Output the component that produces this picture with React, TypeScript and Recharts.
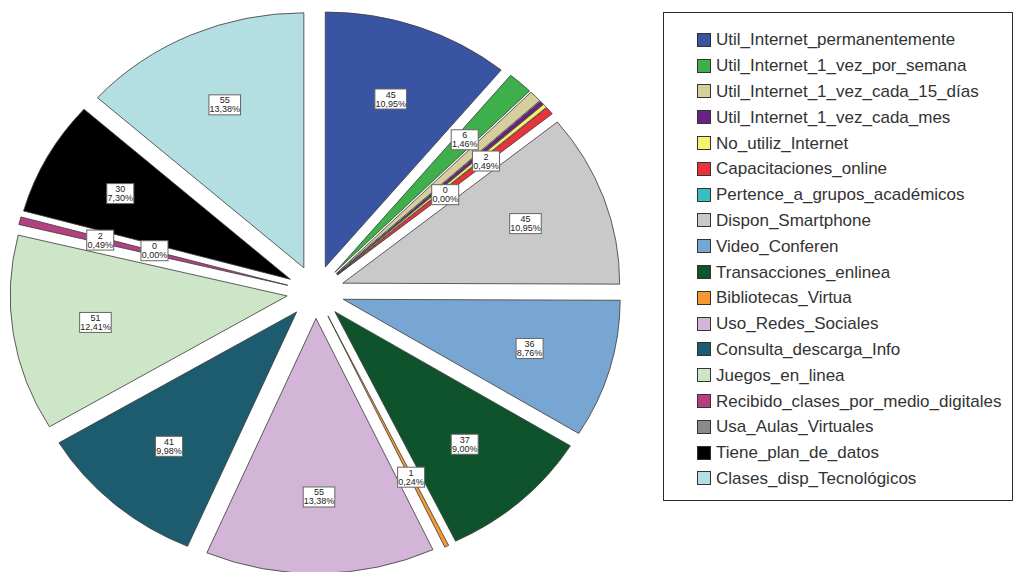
import * as React from "react"
import { PieChart, Pie, Sector, Legend } from "recharts"

const names = [
  "Util_Internet_permanentemente",
  "Util_Internet_1_vez_por_semana",
  "Util_Internet_1_vez_cada_15_días",
  "Util_Internet_1_vez_cada_mes",
  "No_utiliz_Internet",
  "Capacitaciones_online",
  "Pertence_a_grupos_académicos",
  "Dispon_Smartphone",
  "Video_Conferen",
  "Transacciones_enlinea",
  "Bibliotecas_Virtua",
  "Uso_Redes_Sociales",
  "Consulta_descarga_Info",
  "Juegos_en_linea",
  "Recibido_clases_por_medio_digitales",
  "Usa_Aulas_Virtuales",
  "Tiene_plan_de_datos",
  "Clases_disp_Tecnológicos",
]

const values = [45, 6, 3, 1, 1, 2, 0, 45, 36, 37, 1, 55, 41, 51, 2, 0, 30, 55]

const colors = [
  "#3a54a4", "#3db04b", "#d4cf9d", "#6a2080", "#f7f16f", "#e9333a",
  "#39bfbf", "#c9c9c9", "#77a6d2", "#0f532d", "#f5982f", "#d2b5d7",
  "#1d5b6f", "#cde6c7", "#b53f7f", "#8b8b8b", "#000000", "#b3dfe2",
]

// labels SPSS left out because they collided
const hiddenLabels = ["Util_Internet_1_vez_cada_15_días", "Util_Internet_1_vez_cada_mes", "No_utiliz_Internet"]

const data = names.map((name, i) => ({ name, value: values[i] }))

const RAD = Math.PI / 180
const EXPLODE = 26.5
const SX = 1.086 // the original is stretched sideways
const FONT = "'Liberation Sans', Arial, sans-serif"

function ExplodedSector(props: any) {
  const { cx, cy, midAngle, outerRadius, startAngle, endAngle, index } = props
  const m = -midAngle * RAD
  const ox = cx + EXPLODE * Math.cos(m) * SX
  const oy = cy + EXPLODE * Math.sin(m)
  return (
    <g transform={`translate(${ox},${oy}) scale(${SX},1)`}>
      <Sector
        cx={0}
        cy={0}
        innerRadius={0}
        outerRadius={outerRadius}
        startAngle={startAngle}
        endAngle={endAngle}
        fill={colors[index]}
        stroke="#3f3f3f"
        strokeWidth={0.8}
      />
    </g>
  )
}

const placed: { x: number; y: number; w: number }[] = []

function BoxLabel(props: any) {
  const { cx, cy, midAngle, outerRadius, index, value, percent } = props
  if (index === 0) placed.length = 0
  if (hiddenLabels.includes(names[index])) return null
  const m = -midAngle * RAD
  const r = EXPLODE + outerRadius * (value === 0 ? 0.5 : 0.7)
  const x = cx + r * Math.cos(m) * SX
  let y = cy + r * Math.sin(m)
  const line1 = String(value)
  const line2 = (percent * 100).toFixed(2).replace(".", ",") + "%"
  const w = Math.max(line1.length, line2.length) * 4.6 + 4
  const h = 20
  const hits = () => placed.some(p => Math.abs(p.x - x) < (p.w + w) / 2 && Math.abs(p.y - y) < h + 1)
  let guard = 0
  while (hits() && guard < 200) {
    y += Math.cos(m) >= 0 ? 1 : -1
    guard++
  }
  placed.push({ x, y, w })
  return (
    <g>
      <rect x={x - w / 2} y={y - h / 2} width={w} height={h} fill="#fff" stroke="#666" strokeWidth={1} />
      <text x={x} y={y - 1.5} textAnchor="middle" fontSize={9} fontFamily={FONT} fill="#222">{line1}</text>
      <text x={x} y={y + 7.5} textAnchor="middle" fontSize={9} fontFamily={FONT} fill="#222">{line2}</text>
    </g>
  )
}

function LegendBox() {
  return (
    <div
      style={{
        boxSizing: "border-box",
        width: 350,
        height: 489,
        border: "1px solid #2b2b2b",
        background: "#fff",
        paddingTop: 14,
        paddingLeft: 33,
      }}
    >
      {names.map((n, i) => (
        <div key={n} style={{ display: "flex", alignItems: "center", height: 25.8 }}>
          <span
            style={{
              display: "inline-block",
              width: 14,
              height: 14,
              background: colors[i],
              border: "1px solid #333",
              boxSizing: "border-box",
              marginRight: 5,
              flexShrink: 0,
            }}
          />
          <span style={{ fontFamily: FONT, fontSize: 17, color: "#333", lineHeight: "17px", whiteSpace: "nowrap" }}>
            {n}
          </span>
        </div>
      ))}
    </div>
  )
}

export default function App() {
  return (
    <div style={{ position: "absolute", left: 0, top: 0, width: 1014, height: 572, background: "#fff" }}>
      <PieChart width={1014} height={572} margin={{ top: 0, right: 0, bottom: 0, left: 0 }}>
        <Pie
          data={data}
          dataKey="value"
          nameKey="name"
          cx={315.6}
          cy={292}
          innerRadius={0}
          outerRadius={255}
          startAngle={90}
          endAngle={-270}
          fill="none"
          stroke="none"
          label={ExplodedSector}
          labelLine={false}
          isAnimationActive={false}
        />
        <Pie
          data={data}
          dataKey="value"
          nameKey="name"
          cx={315.6}
          cy={292}
          innerRadius={0}
          outerRadius={255}
          startAngle={90}
          endAngle={-270}
          fill="none"
          stroke="none"
          label={BoxLabel}
          labelLine={false}
          isAnimationActive={false}
        />
        <Legend
          layout="vertical"
          align="right"
          verticalAlign="top"
          content={() => <LegendBox />}
          wrapperStyle={{ left: 663, top: 12, width: 350, height: 489 }}
        />
      </PieChart>
    </div>
  )
}
